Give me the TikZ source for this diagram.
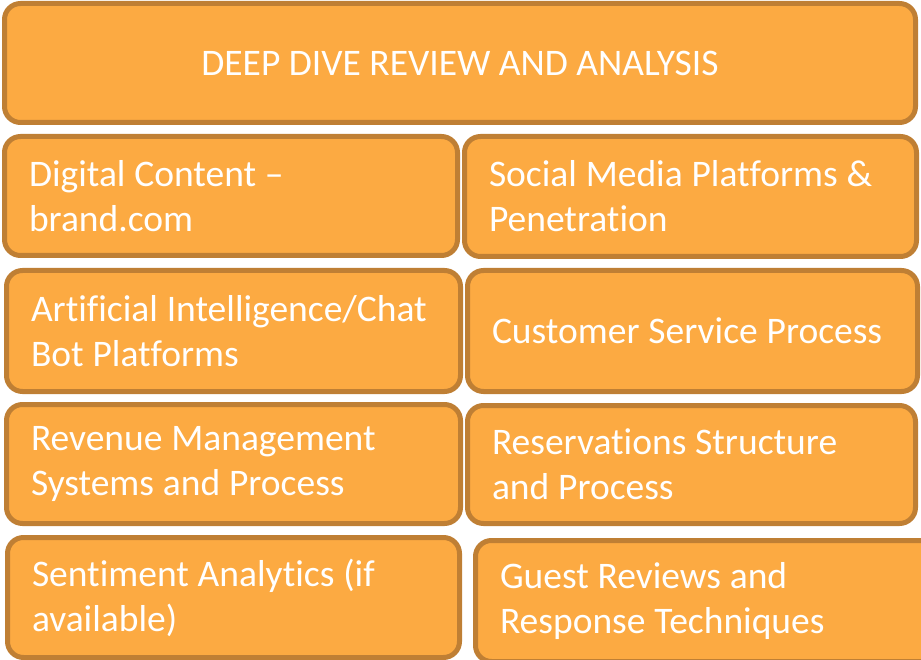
\documentclass[tikz,border=0pt]{standalone}
\usepackage{fontspec}
\setmainfont{Carlito}[Ligatures=CommonOff]
\definecolor{boxfill}{RGB}{252,170,66}
\definecolor{boxline}{RGB}{191,127,52}
\tikzset{
  tile/.style={draw=boxline, fill=boxfill, line width=5pt, rounded corners=16pt,
    inner sep=0pt, text=white, font=\fontsize{37.5}{45}\selectfont, align=left},
}
% \tilebox{name}{left}{top}{right}{bottom}{text} -- outer edges in px
\newcommand\tilebox[6]{%
  \pgfmathsetmacro\tbw{#4-#2-5}%
  \pgfmathsetmacro\tbh{#5-#3-5}%
  \pgfmathsetmacro\tbt{#4-#2-54}%
  \node[tile, minimum width=\tbw pt, minimum height=\tbh pt, text width=\tbt pt]
    (#1) at ({(#2+#4)/2},{(#3+#5)/2+1}) {\spaceskip=0.235em\relax #6};%
}
\begin{document}
\begin{tikzpicture}[x=1pt, y=-1pt]
\useasboundingbox (0,0) rectangle (921,660);
\clip (0,0) rectangle (921,660);
\node[tile, align=center, minimum width=911pt, minimum height=119pt]
  (title) at (460,63) {DEEP DIVE REVIEW AND ANALYSIS};
\tilebox{dc}{2}{133}{460}{257}{Digital Content –\\brand.com}
\tilebox{smp}{462}{133}{919}{258}{Social Media Platforms \&\\Penetration}
\tilebox{ai}{4}{267}{463}{393}{Artificial Intelligence/Chat\\Bot Platforms}
\tilebox{csp}{465}{267}{920}{393}{Customer Service Process}
\tilebox{rm}{4}{401}{463}{525}{Revenue Management\\Systems and Process}
\tilebox{rs}{465}{402}{918}{525}{Reservations Structure\\and Process}
\tilebox{sa}{5}{534}{462}{659}{Sentiment Analytics (if\\available)}
\tilebox{gr}{473}{537}{940}{663}{Guest Reviews and\\Response Techniques}
\end{tikzpicture}
\end{document}
